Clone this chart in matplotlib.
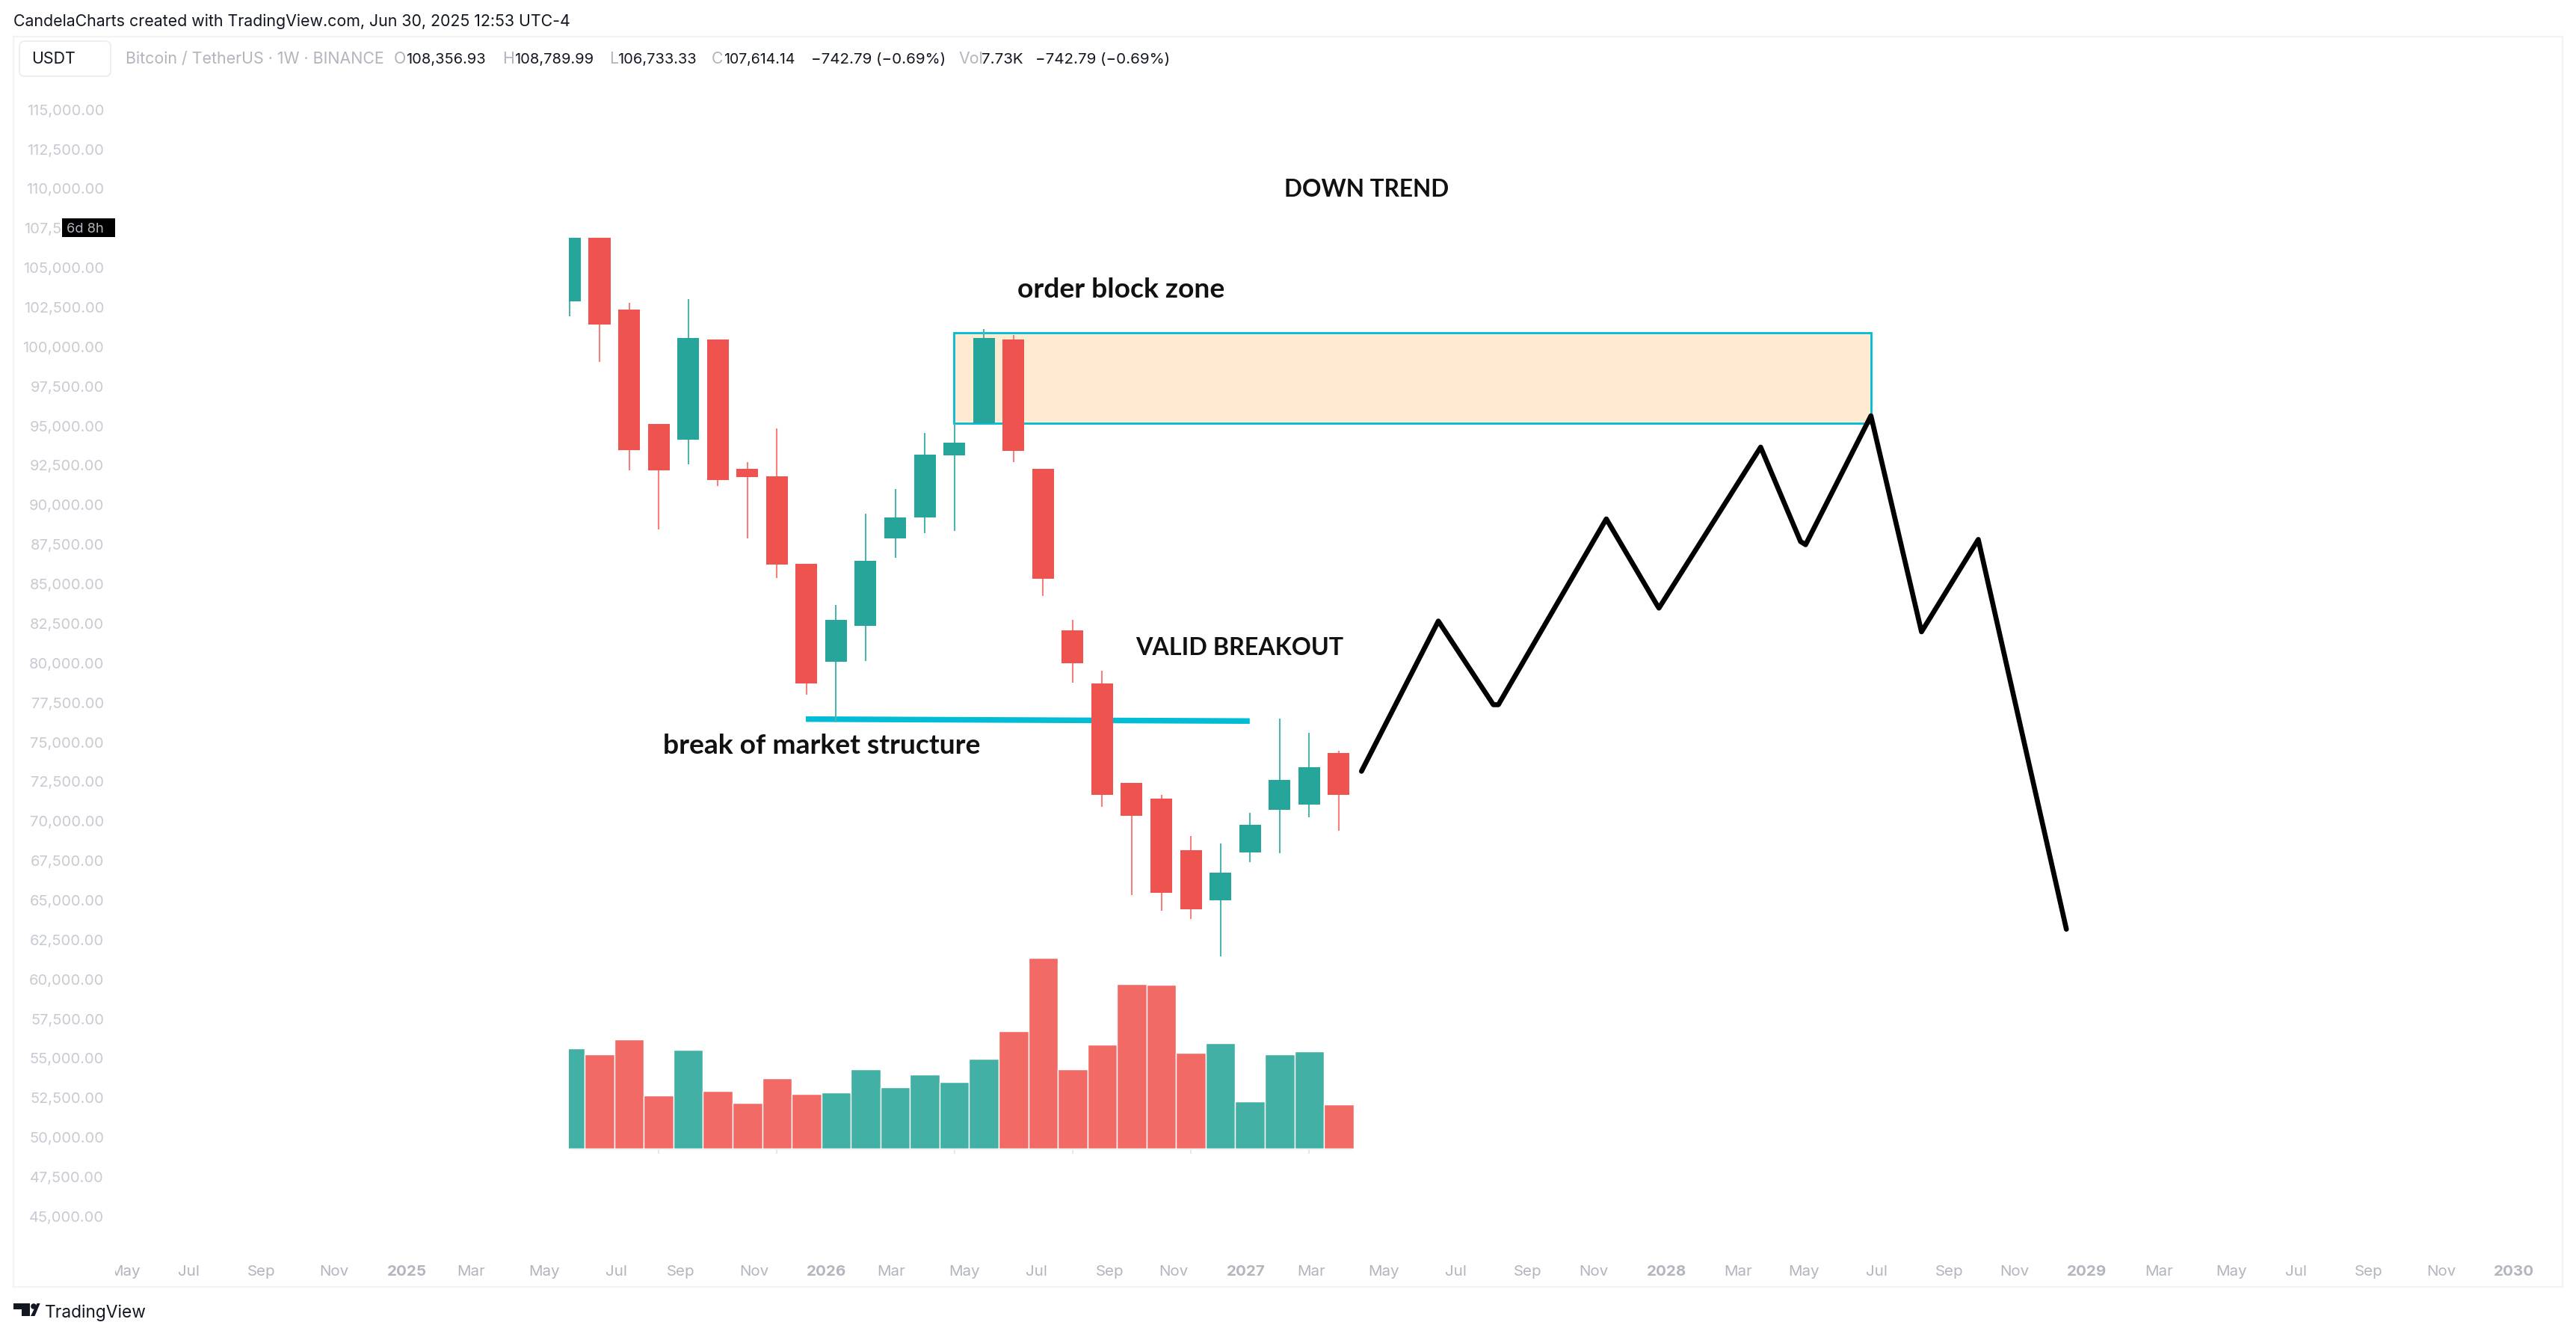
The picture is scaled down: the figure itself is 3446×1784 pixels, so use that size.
import matplotlib
matplotlib.use("Agg")
import matplotlib.pyplot as plt
from matplotlib.patches import Rectangle, FancyBboxPatch, Polygon, Circle
from matplotlib.transforms import Bbox, IdentityTransform

# --- DATA ---
opens = [102870, 106900, 102380, 95140, 94130, 100460, 92270, 91810, 86280, 80070, 82360, 87890, 89210, 93140, 95190,
         100460, 92270, 82080, 78720, 72410, 71440, 68150, 65000, 68030, 70720, 71060, 74330]
closes = [106900, 101410, 93470, 92210, 100550, 91580, 91770, 86230, 78700, 82730, 86470, 89230, 93190, 93960, 100550,
          93410, 85330, 79990, 71650, 70320, 65460, 64410, 66750, 69780, 72620, 73420, 71650]
highs = [106900, 106900, 102790, 95140, 103040, 100460, 92710, 94830, 86280, 83700, 89450, 91010, 94560, 95190, 101140,
         100760, 92270, 82730, 79520, 72410, 71690, 69070, 68590, 70550, 76490, 75590, 74460]
lows = [101940, 99050, 92210, 88470, 92550, 91220, 87880, 85370, 78020, 76260, 80130, 86640, 88220, 88340, 95190,
        92690, 84270, 78740, 70910, 65340, 64340, 63820, 61450, 67430, 67960, 70250, 69400]
volumes = [19.65, 18.4, 21.45, 10.45, 19.4, 11.25, 9.0, 13.7, 10.65, 11.0, 15.55, 12.05, 14.55, 13.05, 17.6,
           23.05, 37.4, 15.55, 20.4, 32.3, 32.05, 18.8, 20.65, 9.25, 18.4, 19.05, 8.6]
vol_up = [1, 0, 0, 0, 1, 0, 0, 0, 0, 1, 1, 1, 1, 1, 1, 0, 0, 0, 0, 0, 0, 0, 1, 1, 1, 1, 0]
vol_tick_bars = [3, 7, 13, 17, 21, 25]

price_ticks = list(range(45000, 115001, 2500))
month_bars = [-15.06, -12.89, -10.44, -7.99, -5.52, -3.35, -0.87, 1.58, 3.74, 6.23, 8.68, 10.86, 13.33, 15.77, 18.25,
              20.42, 22.87, 25.07, 27.52, 29.95, 32.40, 34.63, 37.08, 39.51, 41.74, 44.19, 46.64, 48.86, 51.29, 53.74,
              56.2, 58.37, 60.82, 63.3, 65.75]
month_labels = ["May", "Jul", "Sep", "Nov", "2025", "Mar", "May", "Jul", "Sep", "Nov", "2026", "Mar", "May", "Jul", "Sep",
                "Nov", "2027", "Mar", "May", "Jul", "Sep", "Nov", "2028", "Mar", "May", "Jul", "Sep", "Nov", "2029", "Mar",
                "May", "Jul", "Sep", "Nov", "2030"]

path_bars = [26.77, 29.37, 31.23, 31.40, 35.05, 36.76, 36.83, 40.27, 41.62, 41.79, 44.0, 45.71, 47.63, 50.61]
path_prices = [73160, 82660, 77370, 77370, 89120, 83690, 83480, 93660, 87690, 87490, 95640, 81980, 87820, 63170]

zone_bars = [12.98, 44.0]
zone_prices = [95190, 100908]
break_bars = [7.98, 22.99]
break_prices = [76459, 76336]

GREEN = "#26a69a"
RED = "#ef5350"
W, H = 3446, 1784
plt.rcParams["font.family"] = "Inter"


def fx(x):
    return x / W


def fy(y):
    return 1 - y / H


def pane_text(x, y, s, color="#131722", size=7.7, **kw):
    return fig.text(fx(x), fy(y), s, color=color, fontsize=size, va="baseline", **kw)


fig = plt.figure(figsize=(W / 200, H / 200), dpi=200, facecolor="white")
ax = fig.add_axes([fx(18), fy(1720.7), fx(3428 - 18), (1720.7 - 49) / H])
ax.set_xlim(-18.82, 67.39)
ax.set_ylim(40565, 119620)
for s in ax.spines.values():
    s.set_color("#f2f3f5")
    s.set_linewidth(0.8)

ax.set_yticks(price_ticks)
ax.set_yticklabels([f"{v:,.2f}" for v in price_ticks], color="#c8cad3", fontsize=7.2)
ax.tick_params(axis="y", length=0, pad=-43.6, direction="in")
ax.set_xticks(month_bars)
ax.set_xticklabels(month_labels, color="#b2b5be", fontsize=7.4)
ax.tick_params(axis="x", length=0, pad=-10.5, direction="in")
for lab in ax.get_xticklabels():
    if lab.get_text().isdigit():
        lab.set_fontweight("bold")

# first month label is cut by the scroll edge
first = ax.get_xticklabels()[0]
first.set_clip_box(Bbox([[154, 0], [400, 200]]))
first.set_clip_on(True)

# order block zone
ax.add_patch(Rectangle((zone_bars[0], zone_prices[0]), zone_bars[1] - zone_bars[0], zone_prices[1] - zone_prices[0],
                       facecolor="#ffebd2", edgecolor="#00bcd4", linewidth=1.0, zorder=1))

# break of structure line
ax.plot(break_bars, break_prices, color="#00bcd4", linewidth=2.7, solid_capstyle="butt", zorder=2)

clip = Rectangle((-0.03, 0), 100, 300000, transform=ax.transData)

for i in range(len(opens)):
    up = closes[i] >= opens[i]
    wick = ax.vlines(i, lows[i], highs[i], color="#4db6ac" if up else "#f7807f", linewidth=0.75, zorder=3)
    wick.set_clip_path(clip)
    body = ax.bar(i, abs(closes[i] - opens[i]), bottom=min(opens[i], closes[i]), width=0.735,
                  color=GREEN if up else RED, zorder=4)
    body[0].set_clip_path(clip)

# projected path
ax.plot(path_bars, path_prices, color="black", linewidth=2.4, solid_joinstyle="round", solid_capstyle="round", zorder=5)

ax.text(24.15, 109486, "DOWN TREND", fontsize=11.4, fontweight="bold", family="Lato", color="#111111")
ax.text(15.13, 103102, "order block zone", fontsize=13.4, fontweight="bold", family="Lato", color="#111111")
ax.text(19.13, 80516, "VALID BREAKOUT", fontsize=11.6, fontweight="bold", family="Lato", color="#111111")
ax.text(3.14, 74254, "break of market structure", fontsize=13.4, fontweight="bold", family="Lato", color="#111111")

# volume pane
ax2 = ax.twinx()
ax2.set_ylim(-27.06, 217.84)
ax2.axis("off")
bars = ax2.bar(range(len(volumes)), volumes, width=1.0, edgecolor="white", linewidth=0.5,
               color=["#42b0a5" if u else "#f26a66" for u in vol_up], zorder=2)
for b in bars:
    b.set_clip_path(clip)
ax2.hlines(0, -0.03, 26.47, color="#e0e3eb", linewidth=0.9, zorder=1)
ax2.vlines(vol_tick_bars, -1.1, 0, color="#e0e3eb", linewidth=0.6, zorder=1)

# header
pane_text(18, 35, "CandelaCharts created with TradingView.com, Jun 30, 2025 12:53 UTC-4")
fig.add_artist(FancyBboxPatch((26, H - 102), 122, 47, boxstyle="round,pad=0,rounding_size=7", transform=IdentityTransform(),
                              facecolor="white", edgecolor="#eceef2", linewidth=0.7))
pane_text(42, 85, "USDT")
pane_text(168, 85, "Bitcoin / TetherUS · 1W · BINANCE", color="#b2b5be")
for x, s, c, sz in [(527, "O", "#b2b5be", 7.7), (543, "108,356.93", "#131722", 7.2), (672, "H", "#b2b5be", 7.7),
                    (688, "108,789.99", "#131722", 7.2), (815, "L", "#b2b5be", 7.7), (826, "106,733.33", "#131722", 7.2),
                    (952, "C", "#b2b5be", 7.7), (968, "107,614.14", "#131722", 7.0),
                    (1085, "−742.79 (−0.69%)", "#131722", 7.4), (1282, "Vol", "#b2b5be", 7.7),
                    (1313, "7.73K", "#131722", 7.4), (1385, "−742.79 (−0.69%)", "#131722", 7.4)]:
    pane_text(x, 85, s, color=c, size=sz)

# bar countdown, sits over the 107,500 label
fig.add_artist(Rectangle((82.5, H - 317), 71.5, 25, transform=IdentityTransform(), facecolor="black", edgecolor="none", zorder=5))
pane_text(89, 311, "6d 8h", color="#b2b5be", size=6.6, zorder=6)

# footer logo
fig.add_artist(Polygon([(18, H - 1743), (40, H - 1743), (40, H - 1760), (29, H - 1760), (29, H - 1751), (18, H - 1751)],
                       transform=IdentityTransform(), facecolor="#131722", edgecolor="none"))
fig.add_artist(Circle((45, H - 1747), 3.8, transform=IdentityTransform(), facecolor="#131722", edgecolor="none"))
fig.add_artist(Polygon([(49.5, H - 1743), (53.6, H - 1743), (46.5, H - 1760), (41, H - 1760)],
                       transform=IdentityTransform(), facecolor="#131722", edgecolor="none"))
pane_text(60, 1762, "TradingView", size=8.2)

fig.savefig("out.png", dpi=200)
